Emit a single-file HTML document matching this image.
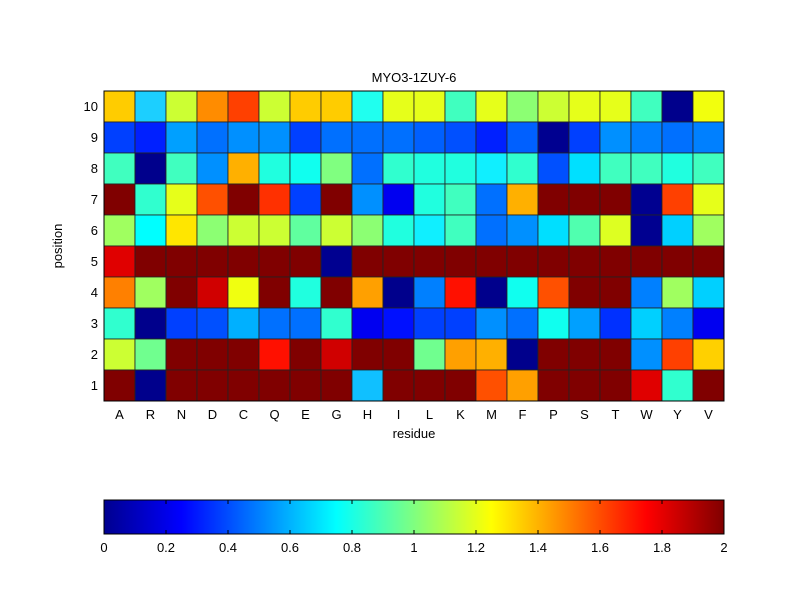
<!DOCTYPE html>
<html><head><meta charset="utf-8"><style>
body{margin:0;background:#fff;}
svg text{font-family:"Liberation Sans",Arial,sans-serif;font-size:13px;fill:#000;}
</style></head><body>
<svg id="s" width="800" height="600" xmlns="http://www.w3.org/2000/svg">
<defs><linearGradient id="jet" x1="0" x2="1" y1="0" y2="0">
<stop offset="0" stop-color="#00008f"/><stop offset="0.125" stop-color="#0000ff"/>
<stop offset="0.375" stop-color="#00ffff"/><stop offset="0.625" stop-color="#ffff00"/>
<stop offset="0.875" stop-color="#ff0000"/><stop offset="1" stop-color="#800000"/>
</linearGradient></defs>
<rect width="800" height="600" fill="#fff"/>
<g id="cells"></g>
<rect x="104" y="91" width="620" height="310" fill="none" stroke="#000" stroke-width="1"/>
<text x="414" y="82" text-anchor="middle">MYO3-1ZUY-6</text>
<g text-anchor="end">
<text x="98" y="111">10</text><text x="98" y="142">9</text><text x="98" y="173">8</text><text x="98" y="204">7</text><text x="98" y="235">6</text><text x="98" y="266">5</text><text x="98" y="297">4</text><text x="98" y="328">3</text><text x="98" y="359">2</text><text x="98" y="390">1</text>
</g>
<g text-anchor="middle">
<text x="119.5" y="419">A</text><text x="150.5" y="419">R</text><text x="181.5" y="419">N</text><text x="212.5" y="419">D</text><text x="243.5" y="419">C</text><text x="274.5" y="419">Q</text><text x="305.5" y="419">E</text><text x="336.5" y="419">G</text><text x="367.5" y="419">H</text><text x="398.5" y="419">I</text><text x="429.5" y="419">L</text><text x="460.5" y="419">K</text><text x="491.5" y="419">M</text><text x="522.5" y="419">F</text><text x="553.5" y="419">P</text><text x="584.5" y="419">S</text><text x="615.5" y="419">T</text><text x="646.5" y="419">W</text><text x="677.5" y="419">Y</text><text x="708.5" y="419">V</text>
<text x="414" y="438">residue</text>
<text x="0" y="0" transform="translate(62,246) rotate(-90)">position</text>
</g>
<rect x="104" y="500" width="620" height="34" fill="url(#jet)" stroke="#000" stroke-width="1"/>
<g id="ticks" stroke="#000" stroke-width="1"></g>
<g text-anchor="middle">
<text x="104" y="552">0</text><text x="166" y="552">0.2</text><text x="228" y="552">0.4</text><text x="290" y="552">0.6</text><text x="352" y="552">0.8</text><text x="414" y="552">1</text><text x="476" y="552">1.2</text><text x="538" y="552">1.4</text><text x="600" y="552">1.6</text><text x="662" y="552">1.8</text><text x="724" y="552">2</text>
</g>
</svg>
<script>
var D="#800000",K="#00008c";
var rows=[
["#ffcc00","#1ccfff","#ccff33","#ff8c00","#ff4000","#ccff33","#ffcc00","#ffcc00","#20ffef","#e6ff1a","#e6ff1a","#40ffbf","#e6ff1a","#8cff73","#ccff33","#e6ff1a","#e6ff1a","#40ffbf",K,"#f2ff0d"],
["#0040ff","#0020ff","#00a0ff","#0070ff","#0090ff","#0090ff","#0040ff","#0070ff","#0070ff","#0070ff","#0060ff","#0050ff","#0020ff","#0060ff","#000090","#0040ff","#0090ff","#0080ff","#0070ff","#0080ff"],
["#40ffbf",K,"#40ffbf","#0090ff","#ffb000","#20ffdf","#10ffef","#80ff80","#0070ff","#30ffcf","#20ffdf","#20ffdf","#10efff","#30ffcf","#0050ff","#00e0ff","#40ffbf","#40ffbf","#20ffdf","#40ffbf"],
[D,"#30ffcf","#e6ff1a","#ff5000",D,"#ff3000","#0040ff",D,"#0090ff","#0000f0","#20ffdf","#40ffbf","#0070ff","#ffb000",D,D,D,"#000090","#ff4000","#e6ff1a"],
["#a0ff60","#00ffff","#ffe600","#8cff73","#ccff33","#ccff33","#60ff9f","#ccff33","#8cff73","#20ffdf","#10efff","#40ffbf","#0070ff","#0090ff","#00dfff","#50ffaf","#ddff22","#000090","#00d0ff","#a0ff60"],
["#e00000",D,D,D,D,D,D,"#000090",D,D,D,D,D,D,D,D,D,D,D,D],
["#ff8000","#a0ff60",D,"#d00000","#f0ff10",D,"#20ffdf",D,"#ffa000",K,"#0080ff","#ff1000",K,"#10ffef","#ff5000",D,D,"#0080ff","#a0ff60","#00d0ff"],
["#30ffcf",K,"#0040ff","#0050ff","#00b0ff","#0070ff","#0070ff","#30ffcf","#0000f0","#0010ff","#0040ff","#0040ff","#0090ff","#0070ff","#10ffef","#00a0ff","#0030ff","#00d0ff","#0080ff","#0000f0"],
["#ccff33","#70ff8f",D,D,D,"#ff1000",D,"#d00000",D,D,"#70ff8f","#ffa000","#ffb000",K,D,D,D,"#0090ff","#ff4000","#ffd000"],
[D,K,D,D,D,D,D,D,"#10c0ff",D,D,D,"#ff5000","#ffa000",D,D,D,"#e00000","#30ffcf",D]
];
var ns="http://www.w3.org/2000/svg",g=document.getElementById("cells");
for(var r=0;r<10;r++)for(var c=0;c<20;c++){var e=document.createElementNS(ns,"rect");
e.setAttribute("x",104+c*31);e.setAttribute("y",91+r*31);e.setAttribute("width",31);e.setAttribute("height",31);
e.setAttribute("fill",rows[r][c]);e.setAttribute("stroke","#222");e.setAttribute("stroke-width","0.8");g.appendChild(e);}
var t=document.getElementById("ticks");
for(var i=1;i<10;i++){var x=104+i*62;[[500,504],[530,534]].forEach(function(p){var l=document.createElementNS(ns,"line");
l.setAttribute("x1",x);l.setAttribute("x2",x);l.setAttribute("y1",p[0]);l.setAttribute("y2",p[1]);t.appendChild(l);});}
</script>
</body></html>
